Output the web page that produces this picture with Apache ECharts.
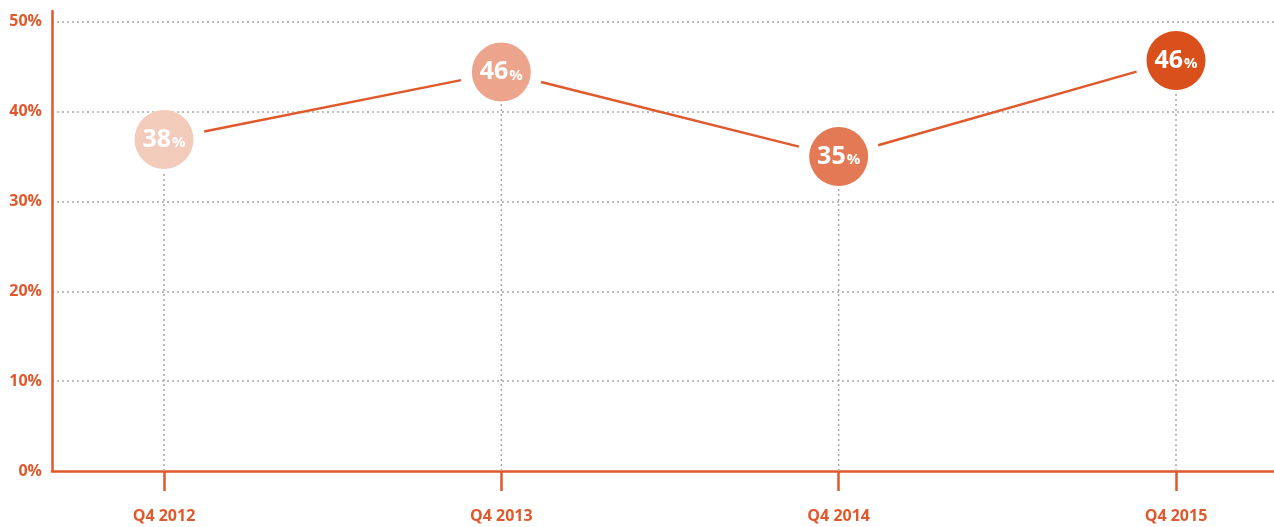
<!DOCTYPE html>
<html>
<head>
<meta charset="utf-8">
<style>
  html, body { margin: 0; padding: 0; background: #fff; }
  #lineChart { width: 1274px; height: 527px; }
</style>
<script src="https://cdn.jsdelivr.net/npm/echarts/dist/echarts.min.js"></script>
</head>
<body>
<div id="lineChart"></div>
<script>
// data
var quarters = ['Q4 2012', 'Q4 2013', 'Q4 2014', 'Q4 2015'];
var sharePlotted = [36.9, 44.4, 35.0, 45.7];   // where the bubbles sit
var shareLabels = ['38', '46', '35', '46'];     // what the bubbles say
var yTicks = [0, 10, 20, 30, 40, 50];

var orange = '#e0592c';
var bubbleColors = ['#f3cbbb', '#eca58c', '#e47a55', '#d9501c'];
var GAP = 41;        // white space between bubble and connecting line
var DROP_GAP = 32;   // where the dotted drop line stops under a bubble

let myChart = echarts.init(document.getElementById('lineChart'));

var bubbleData = sharePlotted.map(function (v, i) {
  return { value: v, label: shareLabels[i], itemStyle: { color: bubbleColors[i], opacity: 1 } };
});

var option = {
  animation: false,
  grid: [
    { left: 52, right: 0, top: 11, bottom: 56 },
    { left: 164, right: 98, top: 11, bottom: 56 }
  ],
  xAxis: [
    {
      gridIndex: 0,
      type: 'value',
      min: 0,
      max: 1,
      axisLine: { show: true, lineStyle: { color: orange, width: 2.5 } },
      axisTick: { show: false },
      axisLabel: { show: false },
      splitLine: { show: false }
    },
    {
      gridIndex: 1,
      type: 'category',
      boundaryGap: false,
      data: quarters,
      axisLine: { show: false },
      axisTick: { show: true, length: 20, lineStyle: { color: orange, width: 2.5 } },
      axisLabel: {
        color: orange,
        fontFamily: 'Open Sans',
        fontWeight: 'bold',
        fontSize: 16,
        margin: 37
      },
      splitLine: { show: false }
    }
  ],
  yAxis: [
    {
      gridIndex: 0,
      type: 'value',
      min: yTicks[0],
      max: 51.2,
      interval: 10,
      axisLine: { show: true, lineStyle: { color: orange, width: 2.5 } },
      axisTick: { show: false },
      axisLabel: {
        showMaxLabel: false,
        color: orange,
        fontFamily: 'Open Sans',
        fontWeight: 'bold',
        fontSize: 16,
        margin: 10,
        formatter: function (v) { return yTicks.indexOf(v) >= 0 ? v + '%' : ''; }
      },
      splitLine: {
        show: true,
        showMinLine: false,
        showMaxLine: false,
        lineStyle: { color: '#a9a9a9', width: 1.5, type: [2, 3] }
      }
    },
    {
      gridIndex: 1,
      type: 'value',
      min: yTicks[0],
      max: 51.2,
      show: false
    }
  ],
  series: [
    {
      // dotted drop lines + connecting segments, kept clear of the bubbles
      type: 'custom',
      xAxisIndex: 1,
      yAxisIndex: 1,
      z: 1,
      data: sharePlotted.map(function (v, i) { return [i, v]; }),
      renderItem: function (params, api) {
        var i = params.dataIndex;
        var p = api.coord([i, sharePlotted[i]]);
        var base = api.coord([i, 0]);
        var children = [{
          type: 'line',
          shape: { x1: p[0], y1: base[1], x2: p[0], y2: p[1] + DROP_GAP },
          style: { stroke: '#a9a9a9', lineWidth: 1.5, lineDash: [2, 3] }
        }];
        if (i < sharePlotted.length - 1) {
          var q = api.coord([i + 1, sharePlotted[i + 1]]);
          var dx = q[0] - p[0], dy = q[1] - p[1];
          var len = Math.sqrt(dx * dx + dy * dy);
          var ux = dx / len, uy = dy / len;
          children.push({
            type: 'line',
            shape: {
              x1: p[0] + ux * GAP, y1: p[1] + uy * GAP,
              x2: q[0] - ux * GAP, y2: q[1] - uy * GAP
            },
            style: { stroke: orange, lineWidth: 2.5 }
          });
        }
        return { type: 'group', children: children };
      }
    },
    {
      type: 'scatter',
      xAxisIndex: 1,
      yAxisIndex: 1,
      z: 3,
      symbol: 'circle',
      symbolSize: 59,
      data: bubbleData,
      label: {
        show: true,
        position: 'inside',
        formatter: function (p) { return '{n|' + p.data.label + '}{p|%}'; },
        rich: {
          n: { color: '#fff', fontFamily: 'Open Sans', fontWeight: 'bold', fontSize: 25 },
          p: { color: '#fff', fontFamily: 'Open Sans', fontWeight: 'bold', fontSize: 15, padding: [7, 0, 0, 1] }
        }
      }
    }
  ]
};
myChart.setOption(option);
</script>
</body>
</html>
